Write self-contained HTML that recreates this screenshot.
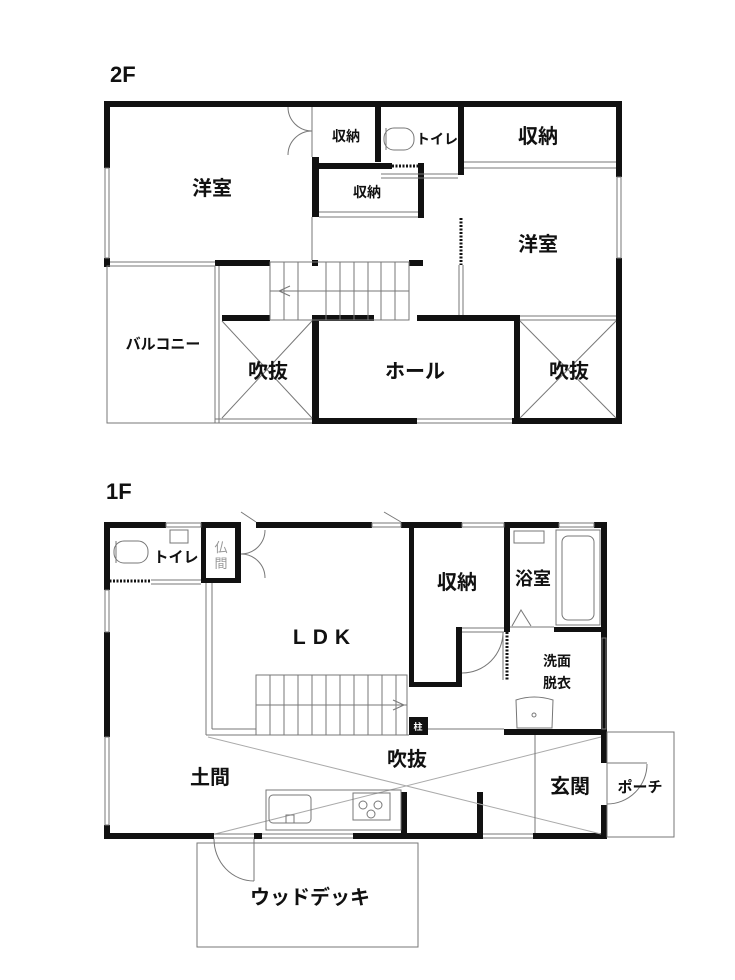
<!DOCTYPE html>
<html><head><meta charset="utf-8"><style>
html,body{margin:0;padding:0;background:#fff}
svg{display:block}
text{font-family:"Liberation Sans","Noto Sans CJK JP",sans-serif;font-weight:bold;fill:#111}
</style></head><body>
<svg width="735" height="980" viewBox="0 0 735 980" xmlns="http://www.w3.org/2000/svg">
<g fill="#111" stroke="none">
<rect x="104" y="101" width="518" height="6"/>
<rect x="104" y="101" width="6" height="67"/>
<rect x="104" y="258" width="6" height="9"/>
<rect x="616" y="101" width="6" height="76"/>
<rect x="616" y="258" width="6" height="165"/>
<rect x="312" y="157" width="7" height="60"/>
<rect x="375" y="101" width="6" height="61"/>
<rect x="312" y="163" width="80" height="6"/>
<rect x="418" y="163" width="6" height="55"/>
<rect x="458" y="101" width="6" height="74"/>
<rect x="215" y="260" width="55" height="6"/>
<rect x="312" y="260" width="6" height="6"/>
<rect x="409" y="260" width="14" height="6"/>
<rect x="222" y="315" width="48" height="6"/>
<rect x="312" y="315" width="62" height="6"/>
<rect x="417" y="315" width="103" height="6"/>
<rect x="312" y="315" width="7" height="109"/>
<rect x="514" y="315" width="6" height="109"/>
<rect x="312" y="418" width="105" height="6"/>
<rect x="512" y="418" width="110" height="6"/>
</g>
<g fill="none" stroke="#111" stroke-width="3" stroke-dasharray="2 1.5">
<line x1="392" y1="166" x2="418" y2="166"/>
<line x1="315" y1="217" x2="315" y2="175"/>
<line x1="461" y1="218" x2="461" y2="265"/>
</g>
<g fill="none" stroke="#777" stroke-width="1">
<rect x="105" y="168" width="4" height="90"/>
<rect x="617" y="177" width="4" height="81"/>
<line x1="110" y1="262" x2="215" y2="262"/><line x1="110" y1="266" x2="215" y2="266"/>
<line x1="312" y1="107" x2="312" y2="157"/>
<line x1="464" y1="162" x2="616" y2="162"/><line x1="464" y1="168" x2="616" y2="168"/>
<line x1="319" y1="212" x2="418" y2="212"/><line x1="319" y1="217" x2="418" y2="217"/>
<line x1="381" y1="174" x2="458" y2="174"/><line x1="381" y1="178" x2="458" y2="178"/>
<line x1="459" y1="265" x2="459" y2="315"/><line x1="463" y1="265" x2="463" y2="315"/>
<line x1="312" y1="217" x2="312" y2="260"/>
<line x1="520" y1="316" x2="616" y2="316"/><line x1="520" y1="320" x2="616" y2="320"/>
<rect x="107" y="266" width="108" height="157"/>
<line x1="215" y1="266" x2="215" y2="423"/><line x1="219" y1="266" x2="219" y2="423"/>
<line x1="215" y1="419" x2="312" y2="419"/><line x1="215" y1="423" x2="312" y2="423"/>
<line x1="417" y1="419" x2="512" y2="419"/><line x1="417" y1="423" x2="512" y2="423"/>
<rect x="270" y="262" width="139" height="58"/>
<line x1="270" y1="291" x2="409" y2="291"/>
<line x1="284" y1="262" x2="284" y2="320"/><line x1="298" y1="262" x2="298" y2="320"/>
<line x1="326" y1="262" x2="326" y2="320"/><line x1="340" y1="262" x2="340" y2="320"/>
<line x1="354" y1="262" x2="354" y2="320"/><line x1="368" y1="262" x2="368" y2="320"/>
<line x1="381" y1="262" x2="381" y2="320"/><line x1="395" y1="262" x2="395" y2="320"/>
<polyline points="290,286 279,291 290,296"/>
<line x1="222" y1="321" x2="312" y2="418"/><line x1="312" y1="321" x2="222" y2="418"/>
<line x1="520" y1="321" x2="616" y2="418"/><line x1="616" y1="321" x2="520" y2="418"/>
<path d="M288 107 A24 24 0 0 0 312 131 A24 24 0 0 0 288 155"/>
<rect x="384" y="128" width="30" height="22" rx="10"/>
<line x1="386" y1="128" x2="386" y2="150"/>
</g>
<g fill="#111">
<rect x="104" y="522" width="62" height="6"/>
<rect x="201" y="522" width="40" height="6"/>
<rect x="256" y="522" width="116" height="6"/>
<rect x="401" y="522" width="61" height="6"/>
<rect x="504" y="522" width="55" height="6"/>
<rect x="594" y="522" width="13" height="6"/>
<rect x="104" y="522" width="6" height="68"/>
<rect x="104" y="632" width="6" height="105"/>
<rect x="104" y="825" width="6" height="14"/>
<rect x="201" y="522" width="5" height="61"/>
<rect x="201" y="578" width="40" height="5"/>
<rect x="235" y="528" width="6" height="52"/>
<rect x="409" y="522" width="5" height="165"/>
<rect x="409" y="682" width="53" height="5"/>
<rect x="456" y="627" width="6" height="60"/>
<rect x="504" y="522" width="6" height="110"/>
<rect x="554" y="627" width="53" height="5"/>
<rect x="504" y="729" width="103" height="6"/>
<rect x="601" y="522" width="6" height="241"/>
<rect x="601" y="805" width="6" height="34"/>
<rect x="104" y="833" width="110" height="6"/>
<rect x="254" y="833" width="8" height="6"/>
<rect x="353" y="833" width="130" height="6"/>
<rect x="533" y="833" width="74" height="6"/>
<rect x="401" y="792" width="6" height="41"/>
<rect x="477" y="792" width="6" height="41"/>
<rect x="409" y="717" width="19" height="18"/>
</g>
<text x="418" y="730" font-size="9" style="fill:#fff" text-anchor="middle">柱</text>
<g fill="none" stroke="#111" stroke-width="3" stroke-dasharray="2 1.5">
<line x1="106" y1="581" x2="151" y2="581"/>
<line x1="507" y1="632" x2="507" y2="680"/>
</g>
<g fill="none" stroke="#777" stroke-width="1">
<rect x="166" y="523" width="35" height="4"/>
<rect x="372" y="523" width="29" height="4"/>
<rect x="462" y="523" width="42" height="4"/>
<rect x="559" y="523" width="35" height="4"/>
<rect x="105" y="590" width="4" height="42"/>
<rect x="105" y="737" width="4" height="88"/>
<rect x="602" y="638" width="4" height="91"/>
<line x1="151" y1="580" x2="201" y2="580"/><line x1="151" y1="584" x2="201" y2="584"/>
<line x1="206" y1="583" x2="206" y2="735"/><line x1="212" y1="583" x2="212" y2="729"/>
<line x1="212" y1="729" x2="256" y2="729"/><line x1="206" y1="735" x2="409" y2="735"/>
<line x1="462" y1="628" x2="504" y2="628"/><line x1="462" y1="632" x2="504" y2="632"/>
<path d="M503 632 A41 41 0 0 1 462 673"/>
<line x1="503" y1="632" x2="503" y2="680"/>
<line x1="428" y1="729" x2="504" y2="729"/>
<path d="M265 530 A24 24 0 0 1 241 554 A24 24 0 0 1 265 578"/>
<line x1="256" y1="522" x2="241" y2="512"/>
<line x1="401" y1="522" x2="384" y2="512"/>
<rect x="256" y="675" width="151" height="60"/>
<line x1="256" y1="705" x2="407" y2="705"/>
<line x1="270" y1="675" x2="270" y2="735"/><line x1="284" y1="675" x2="284" y2="735"/>
<line x1="298" y1="675" x2="298" y2="735"/><line x1="312" y1="675" x2="312" y2="735"/>
<line x1="326" y1="675" x2="326" y2="735"/><line x1="340" y1="675" x2="340" y2="735"/>
<line x1="354" y1="675" x2="354" y2="735"/><line x1="368" y1="675" x2="368" y2="735"/>
<line x1="382" y1="675" x2="382" y2="735"/><line x1="396" y1="675" x2="396" y2="735"/>
<polyline points="393,700 404,705 393,710"/>
<line x1="208" y1="737" x2="601" y2="834" stroke="#aaa"/>
<line x1="601" y1="737" x2="215" y2="834" stroke="#aaa"/>
<line x1="535" y1="735" x2="535" y2="833"/>
<rect x="266" y="790" width="135" height="40"/>
<rect x="269" y="795" width="42" height="28" rx="4"/>
<rect x="286" y="815" width="8" height="8"/>
<rect x="353" y="793" width="37" height="27"/>
<circle cx="363" cy="805" r="4"/><circle cx="378" cy="805" r="4"/><circle cx="371" cy="814" r="4"/>
<line x1="214" y1="834" x2="254" y2="834"/><line x1="214" y1="838" x2="254" y2="838"/>
<line x1="262" y1="834" x2="353" y2="834"/><line x1="262" y1="838" x2="353" y2="838"/>
<line x1="483" y1="834" x2="533" y2="834"/><line x1="483" y1="838" x2="533" y2="838"/>
<rect x="197" y="843" width="221" height="104"/>
<line x1="254" y1="839" x2="254" y2="881"/>
<path d="M214 839 A40 42 0 0 0 254 881"/>
<rect x="607" y="732" width="67" height="105"/>
<line x1="607" y1="763" x2="647" y2="763"/>
<path d="M647 764 A40 40 0 0 1 607 804"/>
<rect x="114" y="541" width="34" height="22" rx="10"/>
<line x1="116" y1="541" x2="116" y2="563"/>
<rect x="170" y="530" width="18" height="13"/>
<rect x="556" y="530" width="44" height="95"/>
<rect x="562" y="536" width="32" height="84" rx="6"/>
<rect x="514" y="531" width="30" height="12"/>
<path d="M512 626 L521 610 L531 626"/>
<line x1="510" y1="627" x2="554" y2="627"/>
<path d="M516 700 Q534 694 553 700 L552 728 L517 728 Z"/>
<circle cx="534" cy="715" r="2"/>
</g>
<text x="110" y="82" font-size="22">2F</text>
<text x="212" y="195" font-size="20" text-anchor="middle">洋室</text>
<text x="346" y="141" font-size="14" text-anchor="middle">収納</text>
<text x="437" y="144" font-size="14" text-anchor="middle">トイレ</text>
<text x="538" y="143" font-size="20" text-anchor="middle">収納</text>
<text x="367" y="197" font-size="14" text-anchor="middle">収納</text>
<text x="538" y="251" font-size="20" text-anchor="middle">洋室</text>
<text x="163" y="349" font-size="15" text-anchor="middle">バルコニー</text>
<text x="268" y="378" font-size="20" text-anchor="middle">吹抜</text>
<text x="415" y="378" font-size="20" text-anchor="middle">ホール</text>
<text x="569" y="378" font-size="20" text-anchor="middle">吹抜</text>
<text x="106" y="499" font-size="22">1F</text>
<text x="176" y="562" font-size="15" text-anchor="middle">トイレ</text>
<text x="221" y="552" font-size="13" text-anchor="middle" style="fill:#999;font-weight:normal">仏</text>
<text x="221" y="568" font-size="13" text-anchor="middle" style="fill:#999;font-weight:normal">間</text>
<text x="325" y="644" font-size="21" text-anchor="middle" letter-spacing="7">LDK</text>
<text x="457" y="589" font-size="20" text-anchor="middle">収納</text>
<text x="533" y="585" font-size="18" text-anchor="middle">浴室</text>
<text x="557" y="666" font-size="14" text-anchor="middle">洗面</text>
<text x="557" y="688" font-size="14" text-anchor="middle">脱衣</text>
<text x="407" y="766" font-size="20" text-anchor="middle">吹抜</text>
<text x="210" y="784" font-size="20" text-anchor="middle">土間</text>
<text x="570" y="793" font-size="20" text-anchor="middle">玄関</text>
<text x="640" y="792" font-size="15" text-anchor="middle">ポーチ</text>
<text x="310" y="904" font-size="20" text-anchor="middle">ウッドデッキ</text>
</svg>
</body></html>
